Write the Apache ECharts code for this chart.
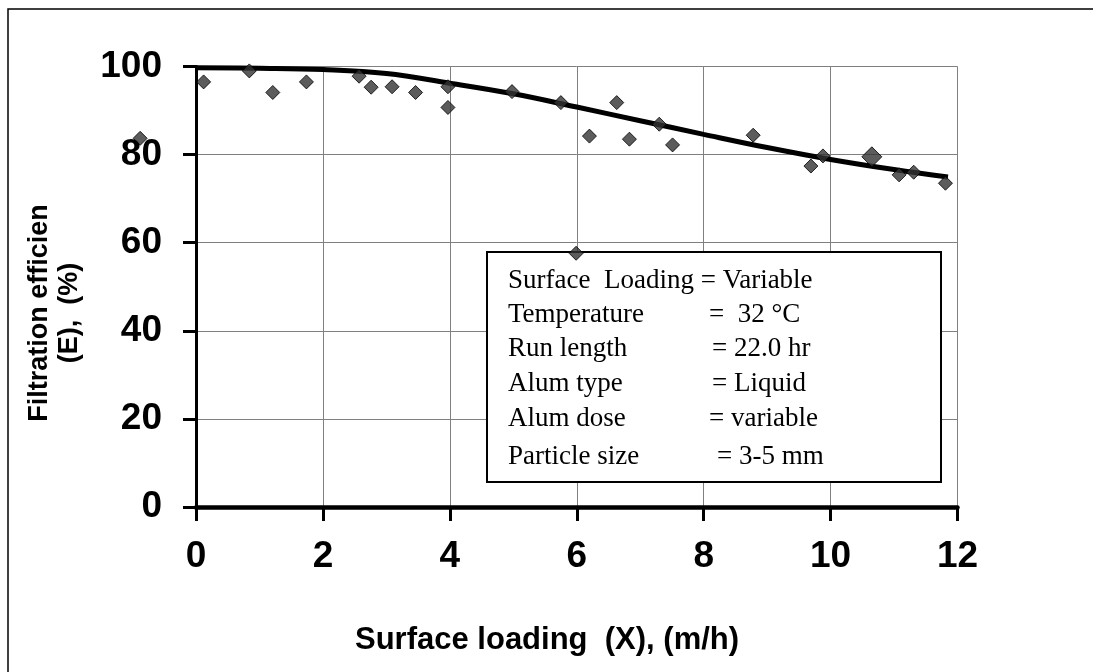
<!DOCTYPE html>
<html lang="en">
    <head>
        <meta charset="utf-8">
        <script src="https://cdn.jsdelivr.net/npm/echarts@6/dist/echarts.min.js"></script>
        <style>
            html, body { margin: 0; padding: 0; background: #fff; }
        </style>
    </head>
    <body>
    <div id="main" style="width:1093px;height:672px"></div>
    <script type="text/javascript">
    var myChart = echarts.init(document.getElementById("main"));

    // measured points (surface loading m/h, efficiency %)
    var loadX = [0.12, 0.84, 1.21, 1.74, 2.57, 2.76, 3.09, 3.46, 3.97, 3.97, 4.98, 5.75, 6.63, 6.20, 6.83,
                 7.30, 7.51, 8.78, 5.99, 9.69, 9.88, 11.08, 11.31, 11.81, -0.88];
    var effY  = [96.5, 99.0, 94.1, 96.5, 97.8, 95.3, 95.4, 94.1, 95.4, 90.7, 94.3, 91.8, 91.8, 84.2, 83.5,
                 86.9, 82.2, 84.4, 57.6, 77.4, 79.7, 75.4, 76.0, 73.5, 83.7];
    // the one bigger marker
    var bigX = [10.65];
    var bigY = [79.5];

    // fitted curve
    var fitX = [0, 1, 2, 3, 4, 5, 6, 7, 8, 9, 10, 11, 11.85];
    var fitY = [99.7, 99.6, 99.3, 98.4, 96.2, 93.8, 90.8, 87.7, 84.6, 81.6, 78.9, 76.6, 74.9];

    var xTicks = [0, 2, 4, 6, 8, 10, 12];
    var yTicks = [0, 20, 40, 60, 80, 100];

    var infoLabels = ['Temperature', 'Run length', 'Alum type', 'Alum dose', 'Particle size'];
    var infoValues = ['=  32 \u00B0C', '= 22.0 hr', '= Liquid', '= variable', '= 3-5 mm'];

    function pairs(xs, ys) {
        var out = [];
        for (var i = 0; i < xs.length; i++) out.push([xs[i], ys[i]]);
        return out;
    }

    var serif = '"Liberation Serif", "Times New Roman", serif';
    var sans = '"Liberation Sans", Arial, sans-serif';

    var valueX = [709, 712, 712, 709, 717];
    var rowY = [315, 349, 384, 419, 457];

    var graphics = [
        // outer frame
        {type: 'rect', z: 0, shape: {x: 8, y: 9, width: 1200, height: 800},
         style: {fill: null, stroke: '#000', lineWidth: 1.5}},
        // info box
        {type: 'rect', z: 1, shape: {x: 487, y: 252, width: 454, height: 230},
         style: {fill: '#fff', stroke: '#000', lineWidth: 2}},
        {type: 'text', z: 1, x: 508, y: 281,
         style: {text: 'Surface  Loading = Variable', font: '27px ' + serif, fill: '#000',
                 textVerticalAlign: 'middle'}},
        // axis titles
        {type: 'text', z: 1, x: 355, y: 640,
         style: {text: 'Surface loading  (X), (m/h)', font: 'bold 31px ' + sans, fill: '#000',
                 textVerticalAlign: 'middle'}},
        {type: 'text', z: 1, x: 55, y: 313, rotation: Math.PI / 2,
         style: {text: 'Filtration efficien\n(E),  (%)', font: 'bold 27px ' + sans, fill: '#000',
                 textAlign: 'center', textVerticalAlign: 'middle', lineHeight: 30}}
    ];
    for (var k = 0; k < infoLabels.length; k++) {
        graphics.push({type: 'text', z: 1, x: 508, y: rowY[k],
            style: {text: infoLabels[k], font: '27px ' + serif, fill: '#000', textVerticalAlign: 'middle'}});
        graphics.push({type: 'text', z: 1, x: valueX[k], y: rowY[k],
            style: {text: infoValues[k], font: '27px ' + serif, fill: '#000', textVerticalAlign: 'middle'}});
    }

    var option = {
        animation: false,
        backgroundColor: '#fff',
        grid: {
            left: 196,
            right: 135.5,
            top: 66.5,
            bottom: 165,
            containLabel: false,
            outerBoundsMode: 'none'
        },
        xAxis: {
            type: 'value',
            min: xTicks[0],
            max: xTicks[xTicks.length - 1],
            interval: xTicks[1] - xTicks[0],
            axisLine: {show: true, onZero: false, lineStyle: {color: '#000', width: 4.5}},
            axisTick: {show: true, inside: false, length: 14, lineStyle: {color: '#000', width: 3}},
            axisLabel: {color: '#000', fontSize: 37, fontWeight: 'bold', fontFamily: sans, margin: 31},
            splitLine: {show: true, lineStyle: {color: '#808080', width: 1}}
        },
        yAxis: {
            type: 'value',
            min: yTicks[0],
            max: yTicks[yTicks.length - 1],
            interval: yTicks[1] - yTicks[0],
            axisLine: {show: true, onZero: false, lineStyle: {color: '#000', width: 3}},
            axisTick: {show: true, inside: false, length: 13, lineStyle: {color: '#000', width: 3}},
            axisLabel: {color: '#000', fontSize: 37, fontWeight: 'bold', fontFamily: sans, margin: 34},
            splitLine: {show: true, lineStyle: {color: '#808080', width: 1}}
        },
        series: [
            {
                name: 'fit',
                type: 'line',
                smooth: 0.4,
                showSymbol: false,
                z: 2,
                lineStyle: {color: '#000', width: 5},
                data: pairs(fitX, fitY)
            },
            {
                name: 'data',
                type: 'scatter',
                symbol: 'diamond',
                symbolSize: 14,
                clip: false,
                z: 3,
                itemStyle: {color: '#333', borderColor: '#000', borderWidth: 1},
                data: pairs(loadX, effY)
            },
            {
                name: 'big',
                type: 'scatter',
                symbol: 'diamond',
                symbolSize: 20,
                z: 3,
                itemStyle: {color: '#333', borderColor: '#000', borderWidth: 1},
                data: pairs(bigX, bigY)
            }
        ],
        graphic: graphics
    };

    myChart.setOption(option);
    </script>
    </body>
</html>
